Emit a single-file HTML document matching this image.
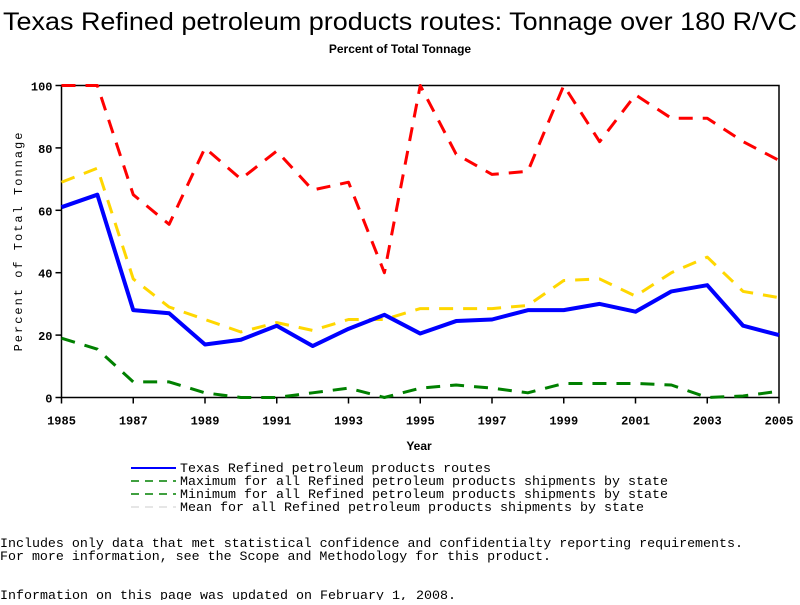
<!DOCTYPE html>
<html><head><meta charset="utf-8"><style>
body{margin:0;background:#fff;width:800px;height:600px;overflow:hidden}
svg text{font-family:"Liberation Mono",monospace}
</style></head><body>
<svg id="c" width="800" height="600" xmlns="http://www.w3.org/2000/svg">
<text x="3" y="30" textLength="794" lengthAdjust="spacingAndGlyphs" style="font-family:'Liberation Sans',sans-serif" font-size="25">Texas Refined petroleum products routes: Tonnage over 180 R/VC</text>
<text x="400" y="53" text-anchor="middle" style="font-family:'Liberation Sans',sans-serif" font-size="12" font-weight="bold">Percent of Total Tonnage</text>
<g id="axes"></g>
<g id="series"></g>
<text x="419" y="450" text-anchor="middle" style="font-family:'Liberation Sans',sans-serif" font-size="12" font-weight="bold">Year</text>
<text transform="translate(22,241) rotate(-90)" text-anchor="middle" font-size="12" letter-spacing="2">Percent of Total Tonnage</text>
<g id="legend" font-size="13"></g>
<g font-size="13">
<text x="0" y="547" textLength="743" lengthAdjust="spacingAndGlyphs">Includes only data that met statistical confidence and confidentialty reporting requirements.</text>
<text x="0" y="560" textLength="551" lengthAdjust="spacingAndGlyphs">For more information, see the Scope and Methodology for this product.</text>
<text x="0" y="599" textLength="456" lengthAdjust="spacingAndGlyphs">Information on this page was updated on February 1, 2008.</text>
</g>
</svg>
<script>
const years=[1985,1986,1987,1988,1989,1990,1991,1992,1993,1994,1995,1996,1997,1998,1999,2000,2001,2002,2003,2004,2005];
const texasVals=[61,65,28,27,17,18.5,23,16.5,22,26.5,20.5,24.5,25,28,28,30,27.5,34,36,23,20];
const maxVals=[100,100,65,55.5,80,70,79,66.5,69,40,100,78,71.5,72.5,100,82,97,89.5,89.5,82,76];
const minVals=[19,15.5,5,5,1.5,0,0,1.5,3,0,3,4,3,1.5,4.5,4.5,4.5,4,0,0.5,2];
const meanVals=[69,73.5,38,29,25,21,24,21.5,25,25,28.5,28.5,28.5,29.5,37.5,38,32.5,40,45,34,32];
const yTicks=[0,20,40,60,80,100];
const xTicks=[1985,1987,1989,1991,1993,1995,1997,1999,2001,2003,2005];
const NS="http://www.w3.org/2000/svg";
const X0=61.5,X1=779,Y0=397.5,Y1=85.5;
const xs=v=>X0+(v-1985)/(2005-1985)*(X1-X0);
const ys=v=>Y0-v/100*(Y0-Y1);
function mk(t,a,p){const e=document.createElementNS(NS,t);for(const k in a)e.setAttribute(k,a[k]);p.appendChild(e);return e;}
const ax=document.getElementById('axes');
const fr=mk('rect',{x:X0,y:Y1,width:X1-X0,height:Y0-Y1,fill:'none',stroke:'#000','stroke-width':1.5},ax);


yTicks.forEach(v=>{
 mk('line',{x1:X0-6,x2:X0,y1:ys(v),y2:ys(v),stroke:'#000','stroke-width':1.5},ax);
 const t=mk('text',{x:X0-9,y:ys(v)+5,'text-anchor':'end','font-size':12,'font-weight':'bold'},ax);
 t.textContent=v;
 
 
});
xTicks.forEach(v=>{
 mk('line',{x1:xs(v),x2:xs(v),y1:Y0,y2:Y0+6,stroke:'#000','stroke-width':1.5},ax);
 const t=mk('text',{x:xs(v),y:Y0+27,'text-anchor':'middle','font-size':12,'font-weight':'bold'},ax);
 t.textContent=v;
 
 
});
const sg=document.getElementById('series');
const series=[
 {v:minVals,c:'#008000',d:'14 10',w:3,n:'min-line'},
 {v:meanVals,c:'#ffd700',d:'14 10',w:3,n:'mean-line'},
 {v:maxVals,c:'#ff0000',d:'14 10',w:3,n:'max-line'},
 {v:texasVals,c:'#0000ff',d:'',w:4,n:'texas-line'}];
series.forEach(s=>{
 const p=mk('polyline',{points:s.v.map((v,i)=>xs(years[i])+','+ys(v)).join(' '),fill:'none',stroke:s.c,'stroke-width':s.w,'stroke-dasharray':s.d,'stroke-linejoin':'round'},sg);
 
 
});
const lg=document.getElementById('legend');
const items=[['#0000ff','','Texas Refined petroleum products routes','legend-texas',311],
['#008000','8 6','Maximum for all Refined petroleum products shipments by state','legend-max',488],
['#008000','8 6','Minimum for all Refined petroleum products shipments by state','legend-min',488],
['#dddddd','8 6','Mean for all Refined petroleum products shipments by state','legend-mean',464]];
items.forEach((it,i)=>{
 const y=468+i*13;
 const g=mk('g',{},lg);
 
 
 mk('line',{x1:131,x2:176,y1:y,y2:y,stroke:it[0],'stroke-width':i==0?2:1.5,'stroke-dasharray':it[1]},g);
 const t=mk('text',{x:180,y:y+4,textLength:it[4],lengthAdjust:'spacingAndGlyphs'},g);t.textContent=it[2];
});
</script>
</body></html>
